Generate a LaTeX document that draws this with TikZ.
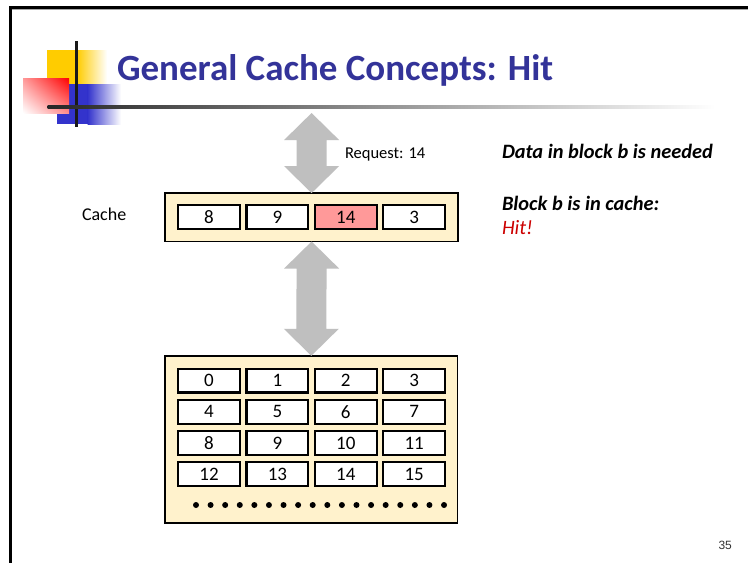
\documentclass[tikz,border=0pt]{standalone}
\usepackage{fontspec}
\setmainfont{Carlito}
\newfontfamily\pagenumfont{Liberation Sans}
\usetikzlibrary{calc,shadings}

\definecolor{titleblue}{RGB}{51,51,153}
\definecolor{panelyellow}{RGB}{255,242,204}
\definecolor{hitcellred}{RGB}{255,153,153}
\definecolor{arrowgray}{RGB}{191,191,191}
\definecolor{hitred}{RGB}{204,0,0}
\definecolor{logoyellow}{RGB}{255,204,0}
\definecolor{logoblue}{RGB}{51,51,204}
\definecolor{logored}{RGB}{255,0,0}

\tikzset{
  cellbox/.style={draw=black, line width=2.2pt, fill=white, minimum width=61.8pt,
    minimum height=23.8pt, inner sep=0pt, outer sep=0pt, font=\fontsize{19}{19}\selectfont},
  hitcell/.style={cellbox, fill=hitcellred},
  panel/.style={draw=black, line width=1.6pt, fill=panelyellow, inner sep=0pt, outer sep=0pt},
  bigarrow/.style={fill=arrowgray},
  plaintext/.style={anchor=base west, inner sep=0pt, outer sep=0pt},
}

% double-headed block arrow from a top tip #1 down to a bottom tip #2
\newcommand{\drawdoublearrow}[2]{%
  \fill[bigarrow] (#1) -- ++(27.5,27) -- ++(-12.5,0) -- ($(#2)+(15,-27)$) -- ++(12.5,0)
    -- (#2) -- ++(-27.5,-27) -- ++(12.5,0) -- ($(#1)+(-15,27)$) -- ++(-12.5,0) -- cycle;}

\begin{document}
\begin{tikzpicture}[x=1pt,y=-1pt]
\useasboundingbox (0,0) rectangle (748,563);
\fill[white] (0,0) rectangle (748,563);

% slide frame
\draw[line width=2.6pt] (10.3,563) -- (10.3,7.4) -- (748,7.4);
\draw[gray!70, line width=1pt] (11.6,9.2) -- (748,9.2);

% corner logo
\fill[logoyellow] (47,50) rectangle (77.5,86);
\shade[left color=logoyellow, right color=white] (77,50) rectangle (107,86);
\fill[logoblue] (57,84) rectangle (88,124);
\shade[left color=logoblue, right color=white] (87.5,84) rectangle (121,124);
\shade[upper right=logored, upper left=logored!40, lower right=logored!45, lower left=white]
  (23,78) rectangle (69,113);
\draw[line width=2.7pt, black!90] (76.3,41) -- (76.3,127);
\shade[left color=black!85, right color=white] (47.5,105.8) rectangle (715,108.6);

% title
\node[plaintext, font=\fontsize{37}{37}\selectfont\bfseries, text=titleblue]
  (title) at (117,80) {General Cache Concepts: Hit};

% cache level
\node[panel, minimum width=293.1pt, minimum height=48.4pt] (cache) at (311.6,217.3) {};
\node[cellbox] (c1) at (209,217) {8};
\node[cellbox] (c2) at (277.4,217) {9};
\node[hitcell] (c3) at (345.8,217) {14};
\node[cellbox] (c4) at (414.2,217) {3};
\node[plaintext, font=\fontsize{18}{18}\selectfont] (cachelabel) at (82,220) {Cache};

% memory level
\node[panel, minimum width=292.4pt, minimum height=167.4pt] (mem) at (311.3,439.5) {};
\foreach \n [count=\i from 0] in {0,...,15} {
  \pgfmathtruncatemacro{\col}{mod(\i,4)}
  \pgfmathtruncatemacro{\row}{int(\i/4)}
  \node[cellbox] (m\n) at (209+68.4*\col, 380.5+31.2*\row) {\n};
}
\foreach \k in {0,...,17}
  \fill (196+14.59*\k,505) circle (3);

% transfer arrows
\coordinate (reqtip) at (311.6,113);
\drawdoublearrow{reqtip}{cache.north}
\drawdoublearrow{cache.south}{mem.north}
\node[plaintext, font=\fontsize{16.5}{16.5}\selectfont] (request) at (345,158) {Request: 14};

% explanation
\node[plaintext, font=\fontsize{20.4}{20.4}\selectfont\bfseries\itshape] (need) at (502,158)
  {Data in block b is needed};
\node[plaintext, font=\fontsize{20.4}{20.4}\selectfont\bfseries\itshape] (incache) at (502,210)
  {Block b is in cache:};
\node[plaintext, font=\fontsize{20.4}{20.4}\selectfont\itshape, text=hitred] (hit) at (502,234)
  {Hit!};

% page number
\node[plaintext, font=\pagenumfont\fontsize{12}{12}\selectfont, text=black!80] (pagenum)
  at (718.5,549.5) {35};
\end{tikzpicture}
\end{document}
